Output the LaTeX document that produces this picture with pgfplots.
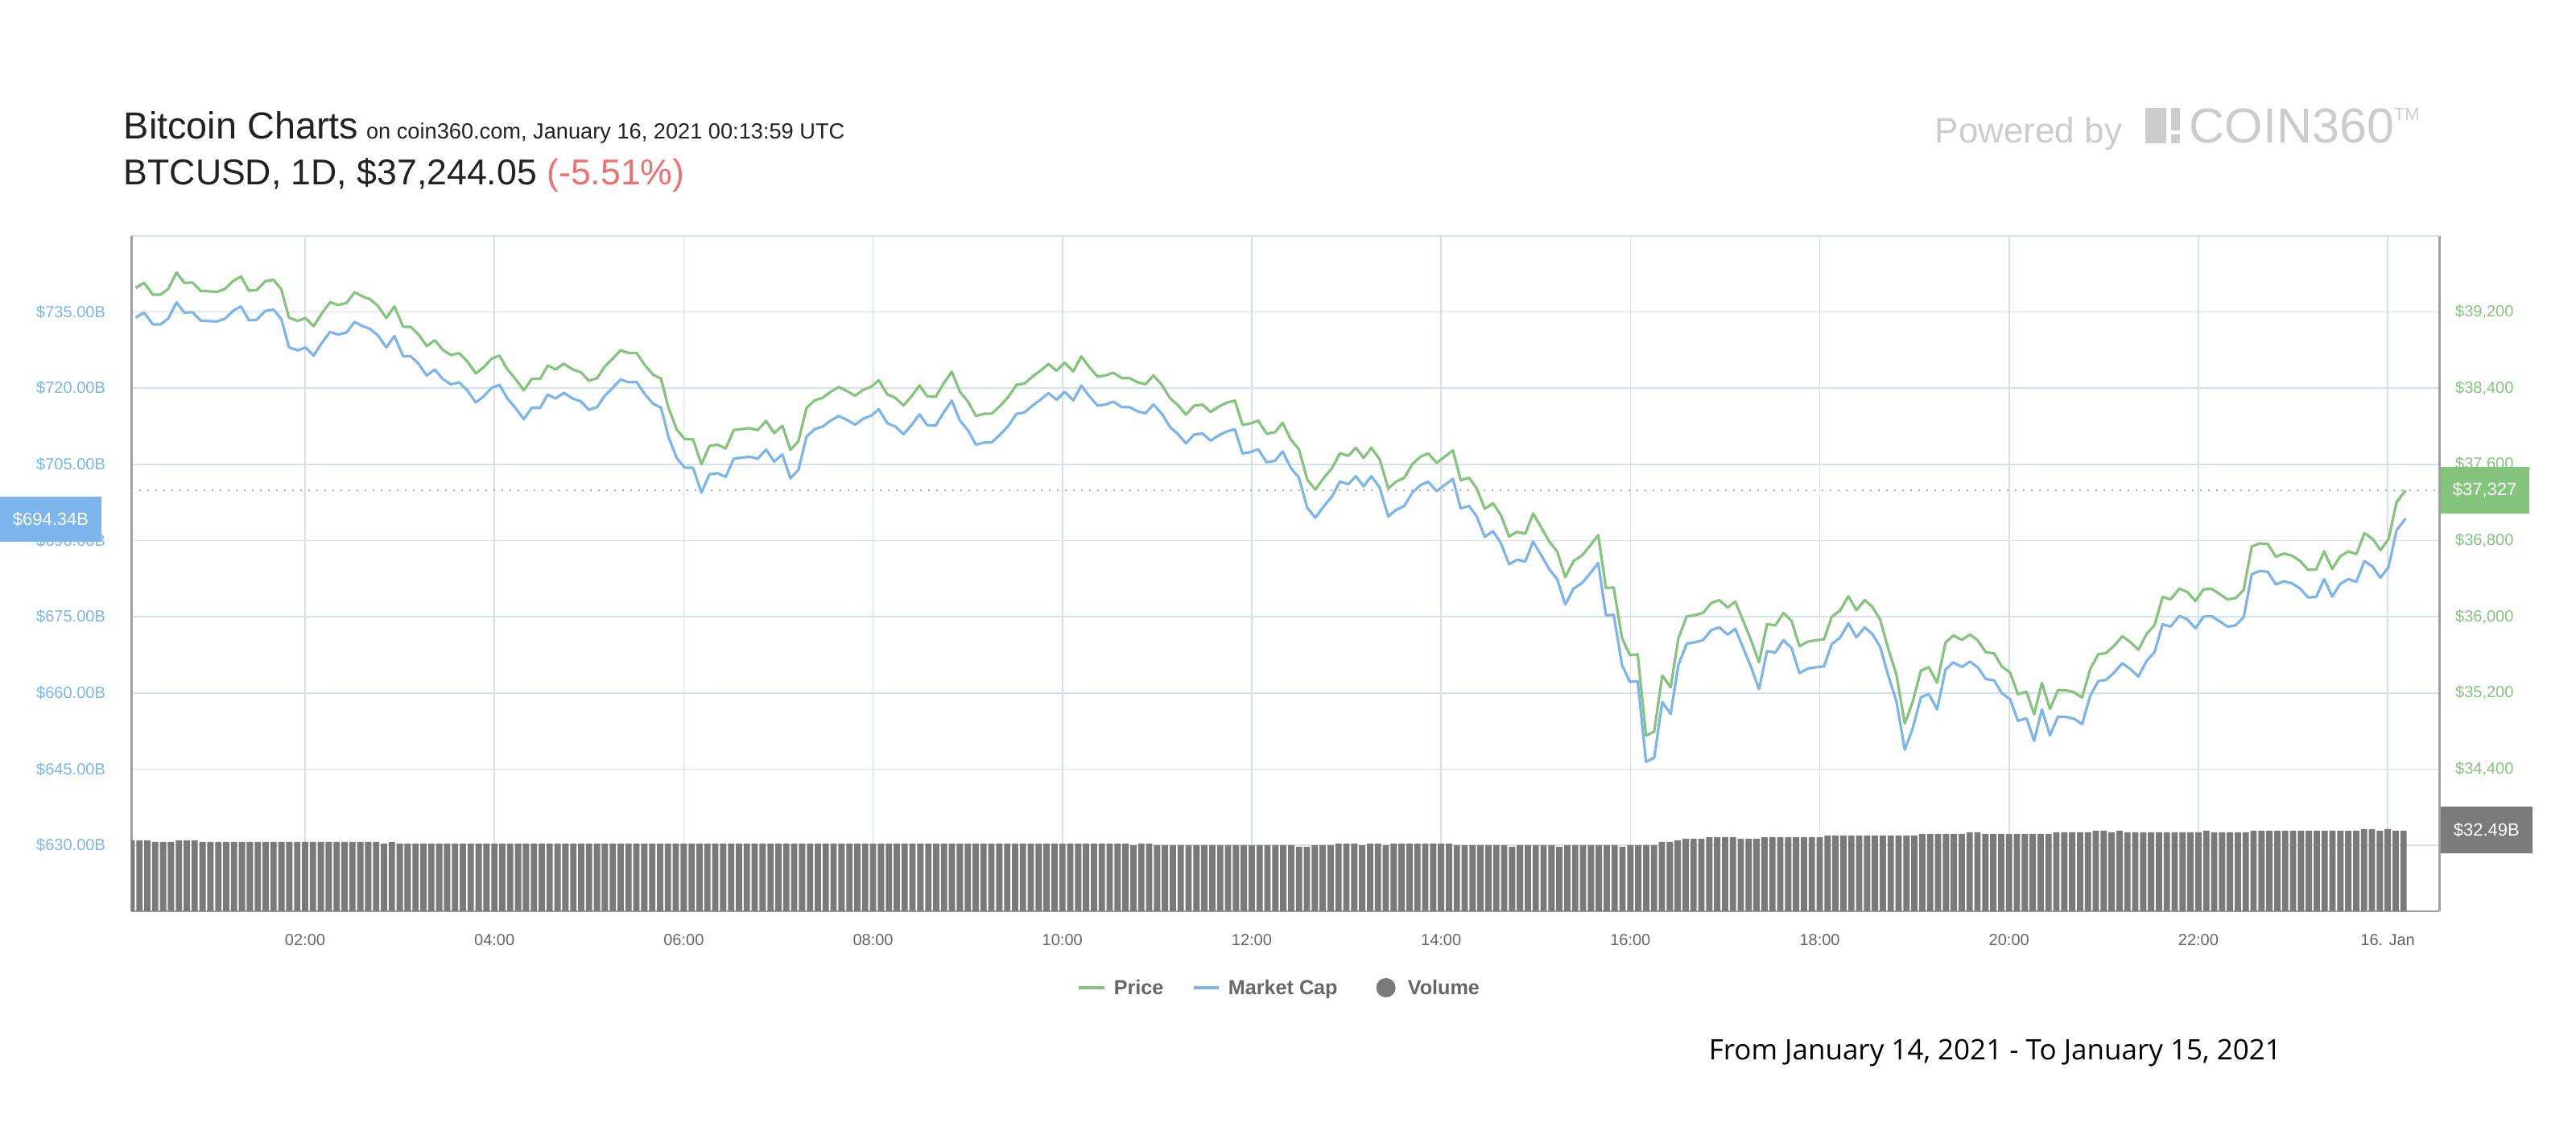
\documentclass[border=0pt]{standalone}
\usepackage{fontspec}
\setmainfont{Liberation Sans}
\newfontfamily\footfont{Open Sans}
\usepackage{pgfplots}
\pgfplotsset{compat=1.18}
\usepackage{pgfplotstable}
\definecolor{cgreen}{RGB}{132,196,124}
\definecolor{cblue}{RGB}{124,181,236}
\definecolor{cvol}{RGB}{122,122,122}
\definecolor{cgrid}{RGB}{216,225,233}
\definecolor{caxis}{RGB}{160,160,160}
\definecolor{cred}{RGB}{240,112,112}
\definecolor{clogo}{RGB}{204,204,204}
\definecolor{clabel}{RGB}{102,102,102}
\definecolor{ctitle}{RGB}{34,34,34}
\definecolor{cdot}{RGB}{170,170,170}

% t = minutes since 00:00 on Jan 15, m = market cap (B USD), p = price (USD)
\pgfplotstableread{
t m p
12.6 733.89 39453
18.0 734.90 39507
23.5 732.57 39382
28.4 732.57 39382
33.3 733.74 39445
38.5 736.91 39615
43.4 734.90 39507
48.7 734.95 39510
53.8 733.31 39422
59.0 733.21 39417
64.3 733.15 39413
69.2 733.68 39442
74.3 735.22 39524
79.4 736.12 39573
84.4 733.37 39425
89.3 733.47 39430
94.8 735.22 39524
100.0 735.48 39538
104.9 733.63 39439
109.8 728.07 39140
115.3 727.44 39106
120.2 728.02 39137
125.4 726.43 39052
130.7 728.97 39188
135.8 731.09 39302
141.1 730.56 39274
146.3 730.98 39296
151.4 733.05 39408
156.3 732.25 39365
161.2 731.67 39334
166.0 730.46 39268
171.5 728.02 39137
176.6 730.30 39260
182.1 726.33 39046
186.9 726.28 39044
191.8 724.85 38967
197.1 722.52 38842
202.2 723.68 38904
207.1 721.83 38805
212.3 720.77 38748
217.6 721.14 38768
222.7 719.61 38685
228.2 717.18 38555
233.2 718.39 38620
238.3 720.09 38711
243.2 720.67 38742
248.1 718.02 38600
253.3 716.12 38498
258.6 713.89 38378
263.7 716.12 38498
269.0 716.12 38498
273.8 718.76 38640
278.7 717.97 38597
284.0 719.08 38657
289.5 717.97 38597
294.7 717.44 38569
299.8 715.75 38478
305.1 716.28 38506
310.0 718.55 38628
314.7 719.98 38705
320.0 721.72 38799
324.9 721.19 38770
330.2 721.19 38770
335.1 718.92 38648
340.5 716.96 38543
345.6 716.17 38500
350.3 710.45 38193
355.6 706.22 37965
360.6 704.37 37866
365.9 704.32 37863
371.2 699.45 37601
376.3 703.05 37795
381.5 703.26 37806
386.6 702.52 37767
391.7 706.12 37960
396.8 706.33 37971
401.6 706.49 37980
406.9 706.12 37960
412.2 707.91 38056
417.3 705.53 37928
422.5 706.96 38005
427.6 702.25 37752
432.7 703.94 37843
437.8 710.45 38193
443.0 711.94 38273
447.9 712.41 38298
453.2 713.63 38364
458.3 714.53 38412
463.5 713.74 38370
468.6 712.83 38321
473.9 714.00 38384
478.8 714.58 38415
483.6 715.85 38483
489.0 713.10 38335
494.0 712.46 38301
499.3 710.93 38219
504.5 712.78 38318
509.4 714.85 38429
514.3 712.73 38315
519.6 712.62 38309
524.7 715.22 38449
529.9 717.54 38574
535.0 713.63 38364
540.1 711.72 38261
545.2 708.87 38108
550.4 709.29 38131
555.3 709.34 38133
560.6 710.88 38216
565.7 712.57 38307
570.9 714.95 38435
576.0 715.22 38449
581.1 716.59 38523
586.2 717.76 38586
591.2 719.03 38654
596.3 717.70 38583
601.4 719.29 38668
606.9 717.60 38577
612.0 720.51 38734
617.1 718.40 38620
622.4 716.54 38520
627.5 716.81 38535
632.2 717.34 38563
637.6 716.28 38506
642.5 716.28 38506
647.8 715.43 38461
652.7 715.06 38441
657.7 716.81 38535
663.0 714.96 38435
668.3 712.31 38293
673.2 710.99 38222
678.3 709.14 38122
683.5 710.88 38216
688.8 711.09 38227
693.9 709.66 38150
699.1 710.72 38207
704.4 711.52 38250
709.3 711.89 38270
714.2 707.13 38014
719.3 707.44 38031
724.1 707.97 38059
729.4 705.43 37923
734.7 705.70 37937
739.6 707.55 38037
744.6 704.37 37866
749.9 702.36 37758
755.2 696.44 37440
760.3 694.48 37334
765.5 696.70 37454
770.8 698.66 37559
775.9 701.62 37718
781.2 701.09 37690
786.0 702.68 37775
790.9 700.67 37667
795.8 702.68 37775
801.1 700.41 37653
806.5 694.74 37348
811.4 696.01 37417
816.7 696.81 37460
821.8 699.45 37602
827.0 700.93 37681
831.9 701.57 37715
837.2 699.72 37616
842.3 700.93 37681
847.5 702.15 37747
852.4 696.33 37434
857.7 696.81 37460
862.6 694.74 37348
867.7 690.72 37132
872.9 691.83 37192
877.8 689.56 37070
883.1 685.33 36843
888.2 686.23 36891
893.4 685.86 36871
898.3 689.82 37084
903.6 687.02 36934
908.7 684.27 36786
913.6 682.41 36686
918.7 677.39 36416
924.0 680.56 36586
929.3 681.62 36643
934.3 683.47 36743
939.6 685.59 36857
944.5 675.27 36302
949.4 675.37 36307
954.7 665.48 35775
959.7 662.15 35596
964.6 662.31 35605
969.9 646.43 34751
975.1 647.23 34794
980.2 658.18 35383
985.5 655.85 35258
990.4 665.48 35775
995.7 669.71 36003
1001.1 669.98 36017
1006.0 670.40 36040
1011.3 672.36 36145
1016.4 672.89 36174
1021.6 671.46 36097
1026.5 672.62 36159
1031.0 669.19 35975
1036.3 665.22 35762
1041.5 660.72 35520
1046.6 668.23 35923
1051.9 667.97 35909
1057.0 670.40 36040
1062.2 668.81 35955
1067.1 663.89 35690
1072.4 664.79 35738
1077.7 665.06 35753
1082.7 665.22 35762
1087.6 669.61 35998
1092.9 670.88 36066
1098.2 673.68 36216
1103.2 670.93 36069
1108.5 672.89 36174
1113.4 671.57 36103
1118.3 669.08 35969
1123.2 663.63 35676
1128.6 658.34 35392
1133.9 648.81 34879
1138.8 652.89 35099
1144.1 659.13 35434
1149.1 659.77 35469
1154.4 656.75 35306
1159.7 664.58 35727
1164.7 666.01 35804
1170.0 665.11 35756
1175.3 666.17 35813
1180.4 664.95 35747
1185.2 662.73 35628
1190.5 662.47 35614
1195.4 659.93 35477
1200.7 658.71 35412
1205.6 654.48 35184
1211.0 655.01 35213
1215.9 650.56 34974
1220.8 656.75 35306
1225.9 651.62 35030
1231.0 655.32 35229
1236.1 655.27 35227
1241.2 654.90 35207
1246.3 653.84 35150
1251.4 659.40 35449
1256.5 662.31 35605
1261.6 662.57 35619
1266.7 664.05 35698
1271.8 665.85 35795
1276.9 664.69 35733
1282.0 663.21 35653
1287.1 666.28 35818
1292.2 668.02 35912
1297.3 673.52 36208
1302.4 673.05 36182
1307.9 675.16 36296
1313.0 674.48 36259
1318.1 672.73 36165
1323.2 675.00 36287
1328.3 675.11 36293
1333.4 674.11 36239
1338.5 673.05 36182
1343.6 673.31 36196
1348.7 674.90 36282
1353.8 683.37 36737
1358.9 684.00 36771
1364.0 683.84 36763
1369.1 681.35 36629
1374.2 681.99 36663
1379.3 681.57 36641
1384.4 680.56 36586
1389.5 678.81 36492
1394.6 678.87 36495
1399.7 682.41 36686
1404.8 678.97 36501
1409.9 681.46 36635
1415.0 682.41 36686
1420.1 681.88 36657
1425.2 685.96 36877
1430.3 684.90 36820
1435.4 682.68 36700
1440.5 684.79 36814
1445.6 692.04 37203
1451.3 694.34 37327
}\linedata

% volume (B USD), one bar every 5 minutes
\pgfplotstableread[row sep=\\]{
t v\\
10 28.59\\ 15 28.59\\ 20 28.59\\ 25 27.94\\ 30 27.94\\ 35 27.94\\ 40 28.59\\ 45 28.59\\ 50 28.59\\
55 27.94\\ 60 27.94\\ 65 27.94\\ 70 27.94\\ 75 27.94\\ 80 27.94\\ 85 27.94\\ 90 27.94\\ 95 27.94\\ 100 27.94\\
105 27.94\\ 110 27.94\\ 115 27.94\\ 120 27.94\\ 125 27.94\\ 130 27.94\\ 135 27.94\\ 140 27.94\\ 145 27.94\\ 150 27.94\\
155 27.94\\ 160 27.94\\ 165 27.94\\ 170 27.29\\ 175 27.94\\
180 27.29\\ 185 27.29\\ 190 27.29\\ 195 27.29\\ 200 27.29\\ 205 27.29\\ 210 27.29\\ 215 27.29\\ 220 27.29\\ 225 27.29\\
230 27.29\\ 235 27.29\\ 240 27.29\\ 245 27.29\\ 250 27.29\\ 255 27.29\\ 260 27.29\\ 265 27.29\\ 270 27.29\\ 275 27.29\\
280 27.29\\ 285 27.29\\ 290 27.29\\ 295 27.29\\ 300 27.29\\ 305 27.29\\ 310 27.29\\ 315 27.29\\ 320 27.29\\ 325 27.29\\
330 27.29\\ 335 27.29\\ 340 27.29\\ 345 27.29\\ 350 27.29\\ 355 27.29\\ 360 27.29\\ 365 27.29\\ 370 27.29\\ 375 27.29\\
380 27.29\\ 385 27.29\\ 390 27.29\\ 395 27.29\\ 400 27.29\\ 405 27.29\\ 410 27.29\\ 415 27.29\\ 420 27.29\\ 425 27.29\\
430 27.29\\ 435 27.29\\ 440 27.29\\ 445 27.29\\ 450 27.29\\ 455 27.29\\ 460 27.29\\ 465 27.29\\ 470 27.29\\ 475 27.29\\
480 27.29\\ 485 27.29\\ 490 27.29\\ 495 27.29\\ 500 27.29\\ 505 27.29\\ 510 27.29\\ 515 27.29\\ 520 27.29\\ 525 27.29\\
530 27.29\\ 535 27.29\\ 540 27.29\\ 545 27.29\\ 550 27.29\\ 555 27.29\\ 560 27.29\\ 565 27.29\\ 570 27.29\\ 575 27.29\\
580 27.29\\ 585 27.29\\ 590 27.29\\ 595 27.29\\ 600 27.29\\ 605 27.29\\ 610 27.29\\ 615 27.29\\ 620 27.29\\ 625 27.29\\
630 27.29\\ 635 27.29\\ 640 27.29\\ 645 26.64\\ 650 27.29\\ 655 27.29\\
660 26.64\\ 665 26.64\\ 670 26.64\\ 675 26.64\\ 680 26.64\\ 685 26.64\\ 690 26.64\\ 695 26.64\\ 700 26.64\\ 705 26.64\\
710 26.64\\ 715 26.64\\ 720 26.64\\ 725 26.64\\ 730 26.64\\ 735 26.64\\ 740 26.64\\ 745 26.64\\
750 25.99\\ 755 25.99\\ 760 26.64\\ 765 26.64\\ 770 26.64\\ 775 27.29\\ 780 27.29\\ 785 27.29\\ 790 26.64\\ 795 27.29\\
800 27.29\\ 805 26.64\\ 810 27.29\\ 815 27.29\\ 820 27.29\\ 825 27.29\\ 830 27.29\\ 835 27.29\\ 840 27.29\\ 845 27.29\\
850 26.64\\ 855 26.64\\ 860 26.64\\ 865 26.64\\ 870 26.64\\ 875 26.64\\ 880 26.64\\ 885 25.99\\
890 26.64\\ 895 26.64\\ 900 26.64\\ 905 26.64\\ 910 26.64\\ 915 25.99\\
920 26.64\\ 925 26.64\\ 930 26.64\\ 935 26.64\\ 940 26.64\\ 945 26.64\\ 950 26.64\\ 955 25.99\\
960 26.64\\ 965 26.64\\ 970 26.64\\ 975 26.64\\ 980 27.94\\ 985 27.94\\ 990 28.59\\
995 29.24\\ 1000 29.24\\ 1005 29.24\\ 1010 29.89\\ 1015 29.89\\ 1020 29.89\\ 1025 29.89\\
1030 29.24\\ 1035 29.24\\ 1040 29.24\\
1045 29.89\\ 1050 29.89\\ 1055 29.89\\ 1060 29.89\\ 1065 29.89\\ 1070 29.89\\ 1075 29.89\\ 1080 29.89\\
1085 30.54\\ 1090 30.54\\ 1095 30.54\\ 1100 30.54\\ 1105 30.54\\ 1110 30.54\\ 1115 30.54\\ 1120 30.54\\
1125 30.54\\ 1130 30.54\\ 1135 30.54\\ 1140 30.54\\
1145 31.19\\ 1150 31.19\\ 1155 31.19\\ 1160 31.19\\ 1165 31.19\\ 1170 31.19\\ 1175 31.84\\ 1180 31.84\\
1185 31.19\\ 1190 31.19\\ 1195 31.19\\ 1200 31.19\\ 1205 31.19\\ 1210 31.19\\ 1215 31.19\\ 1220 31.19\\ 1225 31.19\\
1230 31.84\\ 1235 31.84\\ 1240 31.84\\ 1245 31.84\\ 1250 31.84\\ 1255 32.49\\ 1260 32.49\\ 1265 31.84\\ 1270 32.49\\
1275 31.84\\ 1280 31.84\\ 1285 31.84\\ 1290 31.84\\ 1295 31.84\\ 1300 31.84\\ 1305 31.84\\ 1310 31.84\\ 1315 31.84\\ 1320 31.84\\
1325 32.49\\ 1330 31.84\\ 1335 31.84\\ 1340 31.84\\ 1345 31.84\\ 1350 31.84\\
1355 32.49\\ 1360 32.49\\ 1365 32.49\\ 1370 32.49\\ 1375 32.49\\ 1380 32.49\\ 1385 32.49\\ 1390 32.49\\ 1395 32.49\\
1400 32.49\\ 1405 32.49\\ 1410 32.49\\ 1415 32.49\\ 1420 32.49\\ 1425 33.14\\ 1430 33.14\\ 1435 32.49\\ 1440 33.14\\
1445 32.49\\ 1450 32.49\\
}\voldata

\begin{document}
\begin{tikzpicture}[x=1pt,y=1pt]
\path[use as bounding box] (0,0) rectangle (800,350);

\pgfplotsset{
  plotarea/.style={at={(40.75pt,67pt)}, anchor=south west,
    width=716.75pt, height=209.75pt, scale only axis,
    xmin=9.8, xmax=1472.6},
}

% market cap axis (left) with grid
\begin{axis}[plotarea,
  ymin=617, ymax=750,
  axis x line*=bottom, axis y line*=left,
  x axis line style={draw=caxis, line width=0.6pt, -},
  y axis line style={draw=caxis, line width=0.75pt, -},
  xtick={120,240,360,480,600,720,840,960,1080,1200,1320,1440},
  xticklabels={02:00,04:00,06:00,08:00,10:00,12:00,14:00,16:00,18:00,20:00,22:00,16. Jan},
  ytick={630,645,660,675,690,705,720,735,750},
  yticklabels={\$630.00B,\$645.00B,\$660.00B,\$675.00B,\$690.00B,\$705.00B,\$720.00B,\$735.00B,{}},
  grid=major, major grid style={draw=cgrid, line width=0.4pt},
  major tick length=0pt,
  tick label style={font=\fontsize{5}{6}\selectfont},
  xticklabel style={text=clabel, yshift=-3.5pt},
  yticklabel style={text=cblue, xshift=-4.5pt},
]
\addplot[cblue, line width=0.8pt, line join=round] table[x=t,y=m]{\linedata};
\end{axis}

% volume
\begin{axis}[plotarea, ymin=0, ymax=272.6, axis lines=none, ticks=none]
\addplot[ybar, bar width=4, fill=cvol, draw=none] table[x=t,y=v]{\voldata};
\end{axis}

% price axis (right)
\begin{axis}[plotarea,
  ymin=32906.7, ymax=40000,
  axis x line=none, axis y line*=right,
  y axis line style={draw=caxis, line width=0.75pt, -},
  xtick=\empty, scaled y ticks=false,
  ytick={33600,34400,35200,36000,36800,37600,38400,39200},
  yticklabels={{\$33,600},{\$34,400},{\$35,200},{\$36,000},{\$36,800},{\$37,600},{\$38,400},{\$39,200}},
  major tick length=0pt,
  yticklabel style={text=cgreen, font=\fontsize{5}{6}\selectfont, xshift=1.5pt},
]
\draw[cdot, line width=0.5pt, dash pattern=on 0.5pt off 2pt] (axis cs:9.8,37327) -- (axis cs:1472.6,37327);
\addplot[cgreen, line width=0.8pt, line join=round] table[x=t,y=p]{\linedata};
\end{axis}

% value flags
\fill[cblue] (0,181.75) rectangle (31.5,195.75);
\node[text=white, font=\fontsize{5.5}{6}\selectfont] at (15.75,188.75) {\$694.34B};
\fill[cgreen] (757.9,190.5) rectangle (785.4,205);
\node[text=white, font=\fontsize{5.5}{6}\selectfont] at (771.65,197.75) {\$37,327};
\fill[cvol] (757.9,85) rectangle (786.5,99.5);
\node[text=white, font=\fontsize{5.5}{6}\selectfont] at (772.2,92.25) {\$32.49B};

% titles
\node[anchor=base west, inner sep=0, text=ctitle] at (38.25,306.8)
  {\fontsize{11.7}{14}\selectfont Bitcoin Charts\hspace{2.5pt}\fontsize{6.8}{8}\selectfont on coin360.com, January 16, 2021 00:13:59 UTC};
\node[anchor=base west, inner sep=0, text=ctitle] at (38.25,292.7)
  {\fontsize{11.15}{13}\selectfont BTCUSD, 1D, \$37,244.05 \textcolor{cred}{(-5.51\%)}};

% logo
\node[anchor=base west, inner sep=0, text=clogo] at (600.75,305.6) {\fontsize{11}{13}\selectfont Powered by};
\fill[clogo] (666.25,305.5) rectangle (672.75,316.5);
\fill[clogo] (674.25,309.5) rectangle (677,316.5);
\fill[clogo] (674.25,305.5) rectangle (677,308.25);
\node[anchor=base west, inner sep=0, text=clogo] at (679.75,305.5) {\fontsize{15.25}{18}\selectfont COIN360};
\node[anchor=north west, inner sep=0, text=clogo] at (743.25,316.5) {\fontsize{5.5}{6}\selectfont TM};

% legend
\draw[cgreen, line width=0.8pt] (335,43.25) -- (343,43.25);
\node[anchor=base west, inner sep=0, text=clabel] at (345.75,41.1) {\bfseries\fontsize{6.3}{7}\selectfont Price};
\draw[cblue, line width=0.8pt] (370.75,43.25) -- (378.5,43.25);
\node[anchor=base west, inner sep=0, text=clabel] at (381.25,41.1) {\bfseries\fontsize{6.3}{7}\selectfont Market Cap};
\fill[cvol] (430.4,43.25) circle (3);
\node[anchor=base west, inner sep=0, text=clabel] at (437,41.1) {\bfseries\fontsize{6.3}{7}\selectfont Volume};

% footer
\node[anchor=base west, inner sep=0, text=black] at (530.5,20.8)
  {\footfont\fontsize{8.75}{10}\selectfont From January 14, 2021 - To January 15, 2021};
\end{tikzpicture}
\end{document}
